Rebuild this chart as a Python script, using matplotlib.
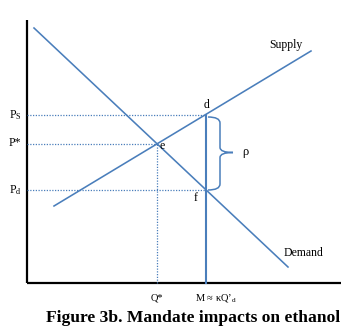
import matplotlib
matplotlib.use('Agg')
import matplotlib.pyplot as plt
from matplotlib.path import Path
from matplotlib.patches import PathPatch

plt.rcParams['font.family'] = 'Liberation Serif'
plt.rcParams['mathtext.fontset'] = 'custom'
plt.rcParams['mathtext.rm'] = 'Liberation Serif'
plt.rcParams['mathtext.it'] = 'Liberation Serif:italic'

# supply and demand lines (quantity, price)
supply_q = [27, 284]
supply_p = [77, 232]
demand_q = [7, 261]
demand_p = [255, 16]

# market points
q_star = 130
p_star = 139
m_q = 179
p_s = 168
p_d = 93

blue = '#4a7ebb'

fig = plt.figure(figsize=(3.59, 3.36), dpi=100)
ax = fig.add_axes([0, 0, 1, 1])
ax.set_xlim(-27, 332)
ax.set_ylim(-53, 283)
ax.set_axis_off()

# axes
ax.plot([0, 0], [0, 263], color='black', lw=1.6, solid_capstyle='butt')
ax.plot([0, 314], [0, 0], color='black', lw=1.6, solid_capstyle='butt')

ax.plot(supply_q, supply_p, color=blue, lw=1.15)
ax.plot(demand_q, demand_p, color=blue, lw=1.15)

# dotted guides
dots = (0, (1, 1.2))
ax.plot([0, m_q], [p_s, p_s], color=blue, lw=0.9, ls=dots)
ax.plot([0, q_star], [p_star, p_star], color=blue, lw=0.9, ls=dots)
ax.plot([0, m_q], [p_d, p_d], color=blue, lw=0.9, ls=dots)
ax.plot([q_star, q_star], [0, p_star], color=blue, lw=0.9, ls=dots)

# mandate quantity
ax.plot([m_q, m_q], [0, p_s], color=blue, lw=1.5)

# brace between Ps and Pd
bx0, bx1, btip = m_q + 2, m_q + 14, m_q + 27
bmid = (p_s + p_d) / 2
verts = [(bx0, p_s - 2), (bx1, p_s - 2), (bx1, p_s - 8),
         (bx1, bmid + 5), (bx1, bmid), (btip, bmid),
         (btip, bmid), (bx1, bmid), (bx1, bmid - 5),
         (bx1, p_d + 6), (bx1, p_d), (bx0, p_d)]
codes = [Path.MOVETO, Path.CURVE3, Path.CURVE3,
         Path.LINETO, Path.CURVE3, Path.CURVE3,
         Path.MOVETO, Path.CURVE3, Path.CURVE3,
         Path.LINETO, Path.CURVE3, Path.CURVE3]
ax.add_patch(PathPatch(Path(verts, codes), fill=False, ec=blue, lw=1.1))

fs = 8.5
ax.text(btip + 9, bmid, '\u03c1', fontsize=fs + 0.5, va='center', ha='left')
ax.text(m_q, p_s + 4, 'd', fontsize=fs, ha='center', va='bottom')
ax.text(q_star + 3, p_star - 2, 'e', fontsize=fs, ha='left', va='center')
ax.text(m_q - 10, p_d - 8, 'f', fontsize=fs, ha='center', va='center')
ax.text(259, 238, 'Supply', fontsize=fs, ha='center', va='center')
ax.text(276, 30, 'Demand', fontsize=fs, ha='center', va='center')

ax.text(-12, p_s, r'P$_\mathrm{S}$', fontsize=fs, ha='center', va='center')
ax.text(-12, p_star + 1, 'P*', fontsize=fs, ha='center', va='center')
ax.text(-12, p_d, r'P$_\mathrm{d}$', fontsize=fs, ha='center', va='center')

ax.text(q_star, -15, 'Q*', fontsize=7.5, ha='center', va='center')
ax.text(m_q - 11, -15, "M \u2248 \u03baQ\u2019$_{\\mathrm{d}}$", fontsize=7.5,
        ha='left', va='center')

ax.text(166, -35, 'Figure 3b. Mandate impacts on ethanol', fontsize=12.6,
        fontweight='bold', ha='center', va='center')

plt.savefig('out.png', dpi=100)
